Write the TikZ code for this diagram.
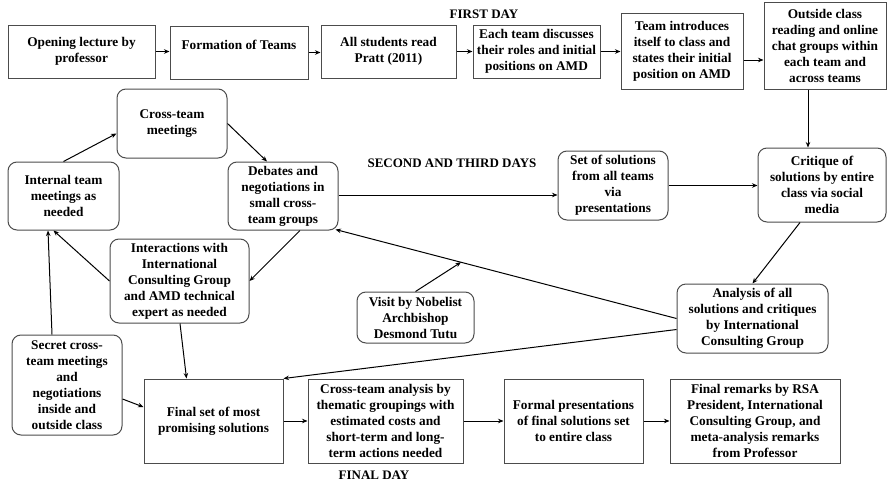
\documentclass[tikz,border=0pt]{standalone}
\usepackage{fontspec}
\setmainfont{Liberation Serif}
\usetikzlibrary{arrows.meta,calc}

\tikzset{
  txt/.style={font=\fontsize{13.3}{16}\selectfont\bfseries, align=center},
  sqbox/.style={txt, draw=black!70, line width=1pt, inner sep=0pt, fill=white},
  rbox/.style={sqbox, rounded corners=9pt},
  flow/.style={draw=black, line width=1pt, -{Stealth[length=5.5pt,width=4.5pt]}},
  daylabel/.style={font=\fontsize{13}{15}\selectfont\bfseries, inner sep=0pt}
}

\begin{document}
\begin{tikzpicture}[x=1pt, y=-1pt]
\useasboundingbox (0,0) rectangle (889,482);

% ---- first day row ----
\node[daylabel] (d1) at (484,14) {FIRST DAY};
\node[sqbox, minimum width=147, minimum height=53] (open) at (81.5,51.5) {Opening lecture by\\professor};
\node[sqbox, minimum width=138, minimum height=53] (form) at (239,52.5) {Formation of Teams\\\mbox{}};
\node[sqbox, minimum width=135, minimum height=53] (read) at (388.5,51.5) {All students read\\Pratt (2011)};
\node[sqbox, minimum width=127, minimum height=53] (disc) at (536.5,51.5) {Each team discusses\\their roles and initial\\positions on AMD};
\node[sqbox, minimum width=122, minimum height=76] (intro) at (682,51) {Team introduces\\itself to class and\\states their initial\\position on AMD};
\node[sqbox, minimum width=122, minimum height=87] (chat) at (825,45.5) {Outside class\\reading and online\\chat groups within\\each team and\\across teams};

% ---- second and third days ----
\node[daylabel] (d2) at (452,163) {SECOND AND THIRD DAYS};
\node[rbox, minimum width=110, minimum height=69] (cross) at (172,123.5) {Cross-team\\meetings};
\node[rbox, minimum width=111, minimum height=68] (internal) at (63.5,196) {Internal team\\meetings as\\needed};
\node[rbox, minimum width=110, minimum height=68] (debate) at (283,196) {Debates and\\negotiations in\\small cross-\\team groups};
\node[rbox, minimum width=139, minimum height=84] (inter) at (179.5,281) {Interactions with\\International\\Consulting Group\\and AMD technical\\expert as needed};
\node[rbox, minimum width=110, minimum height=69] (sols) at (613,185.5) {Set of solutions\\from all teams\\via\\presentations};
\node[rbox, minimum width=128, minimum height=74] (critique) at (822,185) {Critique of\\solutions by entire\\class via social\\media};
\node[rbox, minimum width=151, minimum height=69] (analysis) at (752.5,318.5) {Analysis of all\\solutions and critiques\\by International\\Consulting Group};
\node[rbox, minimum width=117, minimum height=51] (tutu) at (415.5,317.5) {Visit by Nobelist\\Archbishop\\Desmond Tutu};
\node[rbox, minimum width=110, minimum height=100] (secret) at (67,385) {Secret cross-\\team meetings\\and\\negotiations\\inside and\\outside class};

% ---- final day ----
\node[daylabel] (d3) at (374,475) {FINAL DAY};
\node[sqbox, minimum width=139, minimum height=84] (final) at (213.5,421) {Final set of most\\promising solutions};
\node[sqbox, minimum width=155, minimum height=84] (theme) at (385.5,421) {Cross-team analysis by\\thematic groupings with\\estimated costs and\\short-term and long-\\term actions needed};
\node[sqbox, minimum width=139, minimum height=84] (formal) at (573.5,421) {Formal presentations\\of final solutions set\\to entire class};
\node[sqbox, minimum width=170, minimum height=84] (remarks) at (755,421) {Final remarks by RSA\\President, International\\Consulting Group, and\\meta-analysis remarks\\from Professor};

% ---- connectors: first day ----
\draw[flow] (open.east) -- (form.west |- open.east);
\draw[flow] (form.east) -- (read.west |- form.east);
\draw[flow] (read.east) -- (disc.west);
\draw[flow] (disc.east) -- (intro.west |- disc.east);
\draw[flow] ([yshift=-9pt]intro.east) -- ([yshift=-14.5pt]chat.west);
\draw[flow] ([xshift=-17pt]chat.south) -- ([xshift=-14pt]critique.north);

% ---- connectors: second and third days ----
\draw[flow] (internal.north) -- ([yshift=-10pt]cross.west);
\draw[flow] (cross.east) -- ([xshift=-16pt]debate.north);
\draw[flow] ([xshift=17pt]debate.south) -- (inter.east);
\draw[flow] (inter.west) -- ([xshift=-10pt]internal.south);
\draw[flow] ([xshift=-15pt]secret.north) -- ([xshift=-15.5pt]internal.south);
\draw[flow] (debate.east |- 0,195) -- (sols.west |- 0,195);
\draw[flow] (sols.east) -- (critique.west |- sols.east);
\draw[flow] ([xshift=-22pt]critique.south) -- (analysis.north);
\coordinate (dcorner) at ([xshift=-3pt,yshift=1pt]debate.south east);
\draw[flow] (analysis.west) -- (dcorner);
\coordinate (tutuhit) at ($(analysis.west)!0.632!(dcorner)$);
\draw[flow] (tutu.north) -- (tutuhit);

% ---- connectors: final day ----
\draw[flow] ([yshift=-11pt]analysis.west) -- (final.north east);
\draw[flow] ([xshift=0.5pt]inter.south) -- ([xshift=-27pt]final.north);
\draw[flow] ([yshift=-14pt]secret.east) -- ([yshift=14pt]final.west);
\draw[flow] (final.east) -- (theme.west);
\draw[flow] (theme.east) -- (formal.west);
\draw[flow] (formal.east) -- (remarks.west);
\end{tikzpicture}
\end{document}
